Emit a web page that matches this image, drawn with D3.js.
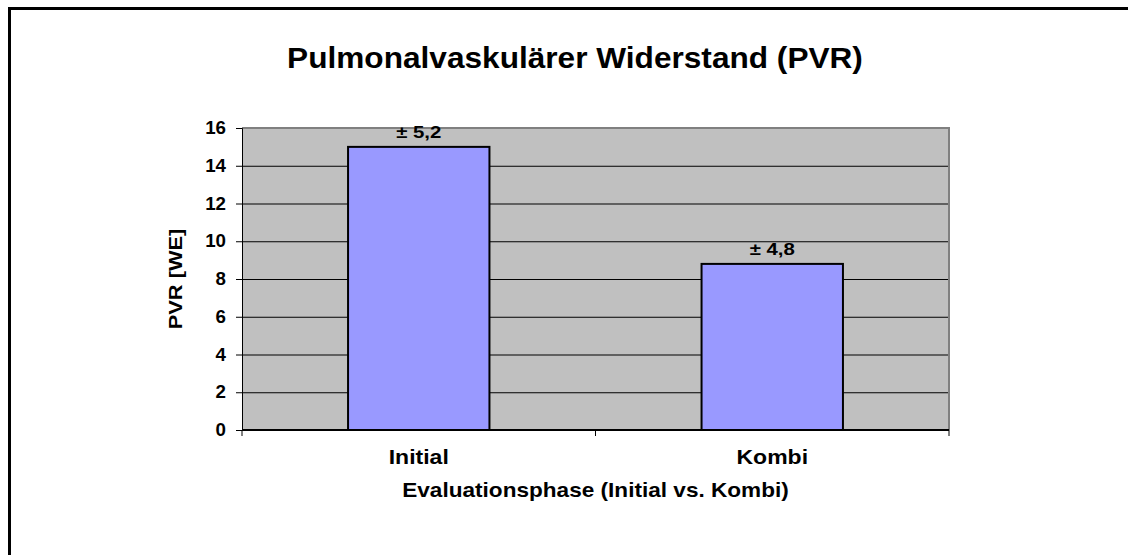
<!DOCTYPE html>
<html>
<head>
<meta charset="utf-8">
<script src="https://cdn.jsdelivr.net/npm/d3@7"></script>
<style>
  html, body { margin: 0; padding: 0; background: #fff; overflow: hidden; }
  svg { display: block; }
  svg text { font-family: "Liberation Sans", Arial, sans-serif; font-weight: bold; fill: #000; }
</style>
</head>
<body>
<div id="chart"></div>
<script>
// Werte aus dem Diagramm
const categories = ["Initial", "Kombi"];
const values = [15.0, 8.8];
const errorLabels = ["± 5,2", "± 4,8"];
const yTicks = [0, 2, 4, 6, 8, 10, 12, 14, 16];

const width = 1128, height = 555;
const plot = { left: 242, right: 949, top: 128, bottom: 430 };

const svg = d3.select("#chart").append("svg")
  .attr("width", width)
  .attr("height", height);

// Text leicht in die Breite gezogen wie im Original
function addText(parent, x, y, str, size, sx, rot) {
  return parent.append("text")
    .attr("transform", `translate(${x},${y})${rot ? ` rotate(${rot})` : ""} scale(${sx},1)`)
    .attr("text-anchor", "middle")
    .attr("font-size", size)
    .text(str);
}

// Rahmen des Diagrammbereichs (nur links und oben sichtbar)
svg.append("path")
  .attr("d", `M9.5,${height} V8.5 H${width}`)
  .attr("fill", "none")
  .attr("stroke", "#000")
  .attr("stroke-width", 3);

const x = d3.scaleBand()
  .domain(categories)
  .range([plot.left, plot.right])
  .paddingInner(0.6)
  .paddingOuter(0.3);

const y = d3.scaleLinear()
  .domain([0, 16])
  .range([plot.bottom, plot.top]);

// Zeichnungsfläche
svg.append("rect")
  .attr("x", plot.left).attr("y", plot.top)
  .attr("width", plot.right - plot.left)
  .attr("height", plot.bottom - plot.top)
  .attr("fill", "#c0c0c0");

// Gitterlinien
svg.append("g")
  .selectAll("line")
  .data(yTicks.filter(t => t > 0 && t < 16))
  .join("line")
  .attr("x1", plot.left).attr("x2", plot.right)
  .attr("y1", d => y(d) + 0.5).attr("y2", d => y(d) + 0.5)
  .attr("stroke", "#000")
  .attr("stroke-width", 1);

// Rand oben/rechts grau
svg.append("path")
  .attr("d", `M${plot.left},${plot.top} H${plot.right} V${plot.bottom}`)
  .attr("fill", "none")
  .attr("stroke", "#808080")
  .attr("stroke-width", 2);

// Balken
svg.append("g")
  .selectAll("rect")
  .data(values)
  .join("rect")
  .attr("x", (d, i) => x(categories[i]))
  .attr("y", d => y(d))
  .attr("width", x.bandwidth())
  .attr("height", d => y(0) - y(d))
  .attr("fill", "#9999ff")
  .attr("stroke", "#000")
  .attr("stroke-width", 2);

// Fehlerbeschriftung
const errG = svg.append("g");
values.forEach((v, i) => {
  addText(errG, x(categories[i]) + x.bandwidth() / 2, y(v) - 8.5, errorLabels[i], 17, 1.2);
});

// Y-Achse
const yAxis = svg.append("g")
  .attr("transform", `translate(${plot.left},0)`)
  .call(d3.axisLeft(y).tickValues(yTicks).tickSize(6).tickPadding(10));
yAxis.select(".domain").attr("stroke", "#000").attr("stroke-width", 1);
yAxis.selectAll(".tick line").attr("stroke", "#000");
yAxis.selectAll(".tick text")
  .attr("x", null)
  .attr("transform", "translate(-16,0) scale(1.07,1)")
  .attr("font-size", 17.5)
  .style("font-family", "Liberation Sans, Arial, sans-serif")
  .style("font-weight", "bold")
  .attr("fill", "#000");

// X-Achse
const xAxisG = svg.append("g")
  .attr("transform", `translate(0,${plot.bottom})`);
xAxisG.append("line")
  .attr("x1", plot.left).attr("x2", plot.right)
  .attr("y1", 0).attr("y2", 0)
  .attr("stroke", "#000").attr("stroke-width", 2);
const catTicks = [plot.left, plot.left + (plot.right - plot.left) / 2, plot.right];
xAxisG.selectAll("line.tick")
  .data(catTicks)
  .join("line")
  .attr("class", "tick")
  .attr("x1", d => d).attr("x2", d => d)
  .attr("y1", 0).attr("y2", 6)
  .attr("stroke", "#000").attr("stroke-width", 1);
categories.forEach(c => {
  addText(xAxisG, x(c) + x.bandwidth() / 2, 33.5, c, 20, 1.15);
});

// Titel
addText(svg, 575, 68, "Pulmonalvaskulärer Widerstand (PVR)", 29, 1.09);

// Achsentitel
addText(svg, (plot.left + plot.right) / 2, 497, "Evaluationsphase (Initial vs. Kombi)", 20, 1.13);
addText(svg, 182, (plot.top + plot.bottom) / 2, "PVR [WE]", 19, 1.15, -90);
</script>
</body>
</html>
